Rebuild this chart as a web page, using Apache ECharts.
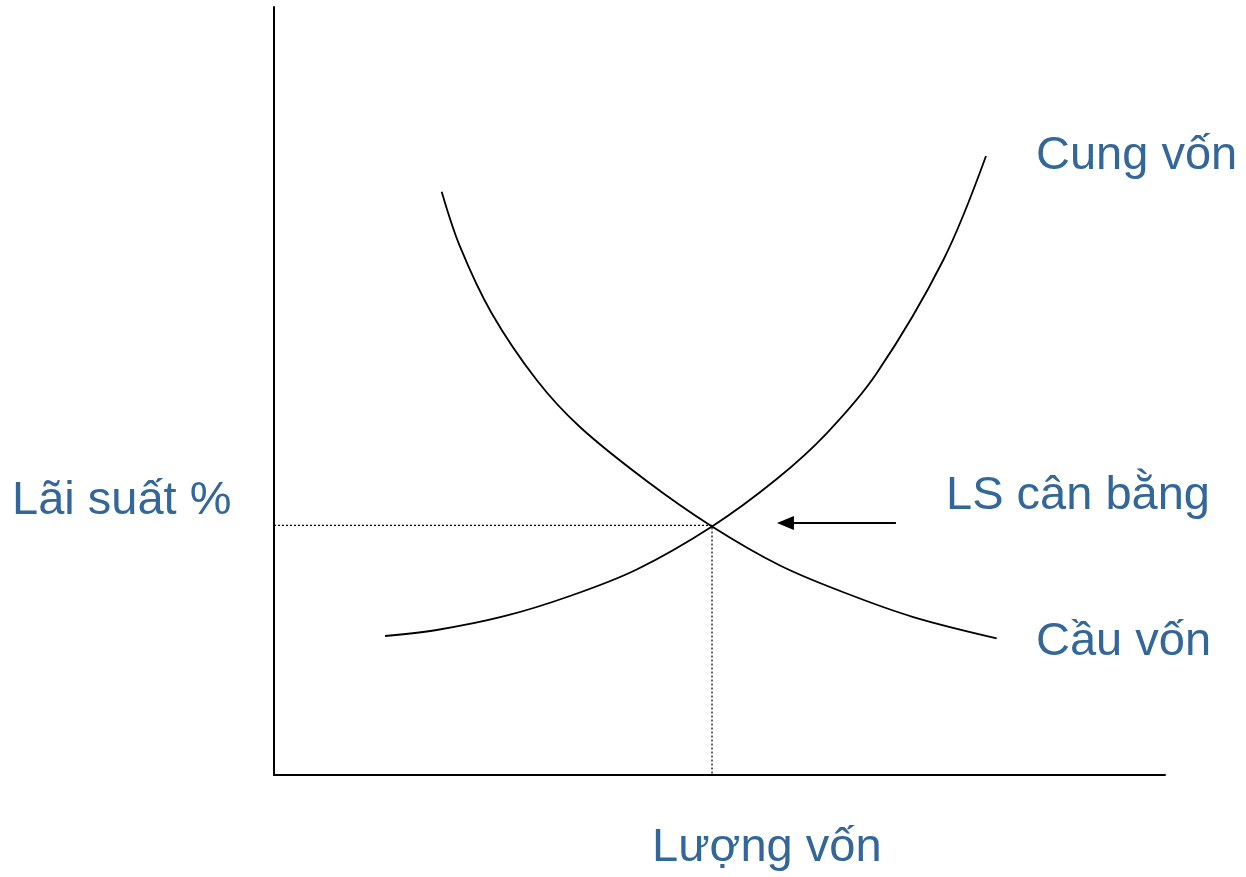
<!DOCTYPE html>
<html>
<head>
<meta charset="utf-8">
<style>
html,body{margin:0;padding:0;background:#fff;}
#c{width:1246px;height:877px;}
</style>
<script src="https://cdn.jsdelivr.net/npm/echarts@6/dist/echarts.min.js"></script>
</head>
<body>
<div id="c"></div>
<script>
// Cầu vốn (demand for capital): [lượng vốn, lãi suất]
const demandX = [18.82, 20.88, 24.43, 29.48, 34.34, 41.83, 49.16, 56.79, 64.28, 71.75, 81.11];
const demandY = [75.95, 68.79, 60.12, 51.43, 45.31, 38.28, 32.36, 27.28, 23.63, 20.57, 17.80];
// Cung vốn (supply of capital)
const supplyX = [12.46, 18.26, 25.73, 33.22, 40.71, 49.16, 56.42, 62.03, 67.64, 75.12, 79.91];
const supplyY = [18.10, 18.88, 20.64, 23.31, 26.76, 32.36, 38.54, 44.49, 52.30, 67.06, 80.60];
// Equilibrium point
const eqX = 49.16;
const eqY = 32.5;
// Arrow pointing at the equilibrium rate
const arrowFromX = 69.8;
const arrowToX = 57.4;
const arrowY = 32.81;
// Labels
const labels = {
  yTitle: 'Lãi suất %',
  xTitle: 'Lượng vốn',
  supply: 'Cung vốn',
  demand: 'Cầu vốn',
  eq: 'LS cân bằng'
};

const zip = (a, b) => a.map((v, i) => [v, b[i]]);
const txtColor = '#336699';
const font = '47px "Liberation Sans", Arial, sans-serif';

const chart = echarts.init(document.getElementById('c'));
chart.setOption({
  animation: false,
  backgroundColor: '#fff',
  grid: { left: 274, right: 81, top: 7, bottom: 102 },
  xAxis: {
    type: 'value', min: 0, max: 100,
    axisLine: { show: true, onZero: false, lineStyle: { color: '#000', width: 2 } },
    axisTick: { show: false }, axisLabel: { show: false }, splitLine: { show: false }
  },
  yAxis: {
    type: 'value', min: 0, max: 100,
    axisLine: { show: true, onZero: false, lineStyle: { color: '#000', width: 2 } },
    axisTick: { show: false }, axisLabel: { show: false }, splitLine: { show: false }
  },
  series: [
    {
      name: labels.demand, type: 'line', data: zip(demandX, demandY),
      smooth: 0.35, showSymbol: false, lineStyle: { color: '#000', width: 1.8 }
    },
    {
      name: labels.supply, type: 'line', data: zip(supplyX, supplyY),
      smooth: 0.35, showSymbol: false, lineStyle: { color: '#000', width: 1.8 }
    },
    {
      name: 'eq', type: 'line', data: [[0, eqY], [eqX, eqY], [eqX, 0]],
      showSymbol: false, lineStyle: { color: '#000', width: 1.2, type: [2, 2] },
      markLine: {
        silent: true,
        symbol: ['none', 'triangle'],
        symbolSize: [14, 17],
        label: { show: false },
        lineStyle: { color: '#000', width: 2, type: 'solid' },
        data: [[{ coord: [arrowFromX, arrowY] }, { coord: [arrowToX, arrowY] }]]
      }
    }
  ],
  graphic: [
    { type: 'text', left: 12, top: 478, style: { text: labels.yTitle, font: font, fill: txtColor } },
    { type: 'text', left: 652, top: 825, style: { text: labels.xTitle, font: font, fill: txtColor } },
    { type: 'text', left: 1036, top: 133, style: { text: labels.supply, font: font, fill: txtColor } },
    { type: 'text', left: 1036, top: 619, style: { text: labels.demand, font: font, fill: txtColor } },
    { type: 'text', left: 946, top: 473, style: { text: labels.eq, font: font, fill: txtColor } }
  ]
});
</script>
</body>
</html>
